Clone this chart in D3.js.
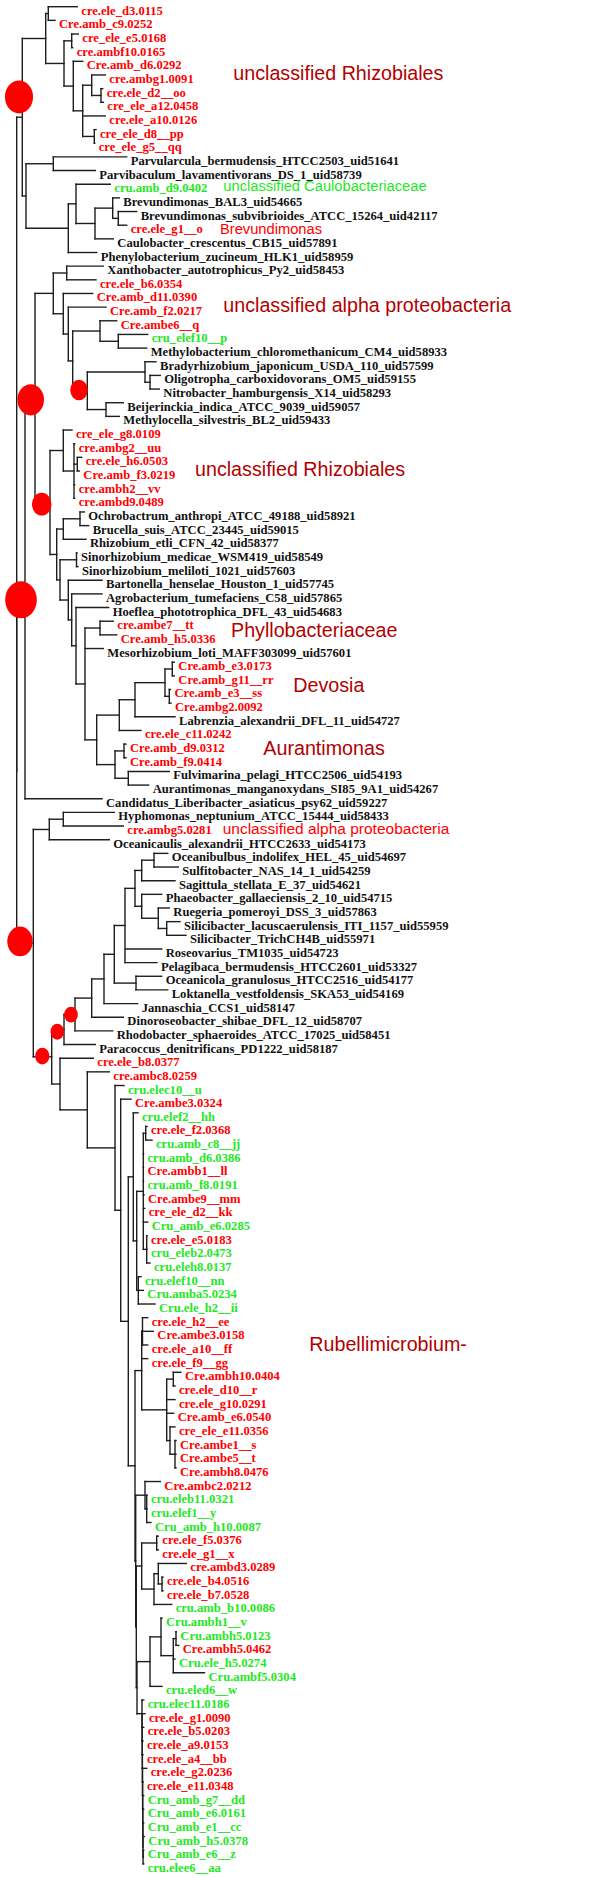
<!DOCTYPE html>
<html><head><meta charset="utf-8">
<script src="https://cdn.jsdelivr.net/npm/d3@7"></script>
<style>body{margin:0;background:#fff}svg{display:block}</style>
</head><body>
<svg id="chart" width="600" height="1878"></svg>
<script>
// ---------- DATA ----------
// Sub-clades as Newick strings (branch lengths), leaves in original order.
const rhizobialesTopNewick = `(
   (cre.ele_d3.0115:29,Cre.amb_c9.0252:6.7):2.6,
   ((cre_ele_e5.0168:6.6,cre.ambf10.0165:1.0):7.7,
    (Cre.amb_d6.0292:9.4,
      ((cre.ambg1.0091:13.6,(cre.ele_d2__oo:1.7,cre_ele_a12.0458:2.3):9.3):9,
       cre.ele_a10.0126:22.6,
       (cre_ele_d8__pp:1.7,cre_ele_g5__qq:0.4):11.6):9.4):9.3):18.3
  )`;

const caulobacterNewick = `(
  (Parvularcula_bermudensis_HTCC2503_uid51641:73.4,Parvibaculum_lavamentivorans_DS_1_uid58739:42):27.3,
  ((cru.amb_d9.0402:34.3,
    ((Brevundimonas_BAL3_uid54665:6.6,(Brevundimonas_subvibrioides_ATCC_15264_uid42117:18.4,cre.ele_g1__o:8.4):5.6):17.7,
     Caulobacter_crescentus_CB15_uid57891:18.3):19):7.7,
   Phenylobacterium_zucineum_HLK1_uid58959:28.4):42.3
 )`;

const alphaNewick = `(
  (Xanthobacter_autotrophicus_Py2_uid58453:36.6,cre.ele_b6.0354:29.3):13.4,
  (Cre.amb_d11.0390:29.4,
   (Cre.amb_f2.0217:37.7,
    ((Cre.ambe6__q:16.7,(cru_elef10__p:29.4,Methylobacterium_chloromethanicum_CM4_uid58933:28.4):18.3):27.3,
     ((Bradyrhizobium_japonicum_USDA_110_uid57599:11,(Oligotropha_carboxidovorans_OM5_uid59155:10.3,Nitrobacter_hamburgensis_X14_uid58293:9.3):5):57.7,
      (Beijerinckia_indica_ATCC_9039_uid59057:17.3,Methylocella_silvestris_BL2_uid59433:13.3):18.7):14.6
    ):4.4):5):10
 )`;

const rhizobialesLowNewick = `(
  (cre_ele_g8.0109:8.7,
   (cre.ambg2__uu:0.7,(cre.ele_h6.0503:4.4,Cre.amb_f3.0219:2):3.3,cre.ambh2__vv:0.7,cre.ambd9.0489:0.7):10.7):13.3,
  (((Ochrobactrum_anthropi_ATCC_49188_uid58921:4.3,Brucella_suis_ATCC_23445_uid59015:8.7):16.7,Rhizobium_etli_CFN_42_uid58377:22.7):6.6,
   ((Sinorhizobium_medicae_WSM419_uid58549:0.5,Sinorhizobium_meliloti_1021_uid57603:1.5):16.5,
    (Bartonella_henselae_Houston_1_uid57745:33.7,
     (Agrobacterium_tumefaciens_C58_uid57865:30.3,
      (Hoeflea_phototrophica_DFL_43_uid54683:32.7,
       ((cre.ambe7__tt:13.3,Cre.amb_h5.0336:16.7):15,
        Mesorhizobium_loti_MAFF303099_uid57601:18.3,
        (((((Cre.amb_e3.0173:2,Cre.amb_g11__rr:2):7.3,(Cre.amb_e3__ss:1.2,Cre.ambg2.0092:1.7):4.3):30,
            Labrenzia_alexandrii_DFL_11_uid54727:40):15.7,
           cre.ele_c11.0242:21.7):22.6,
         ((Cre.amb_d9.0312:2,Cre.amb_f9.0414:2):9,
          (Fulvimarina_pelagi_HTCC2506_uid54193:41,Aurantimonas_manganoxydans_SI85_9A1_uid54267:20.4):13.3):18.3
        ):11.7
       ):9
      ):4.3
     ):3.4
    ):8.3
   ):3.3
  ):6.7
 )`;

const hyphomonasNewick = `((Hyphomonas_neptunium_ATCC_15444_uid58433:51,cre.ambg5.0281:60):14,Oceanicaulis_alexandrii_HTCC2633_uid54173:60)`;

const rhodobacterNewick = `(((((((((Oceanibulbus_indolifex_HEL_45_uid54697:13.7,Sulfitobacter_NAS_14_1_uid54259:24.3):12.3,Sagittula_stellata_E_37_uid54621:33.3):6.7,
   (Phaeobacter_gallaeciensis_2_10_uid54715:20,(Ruegeria_pomeroyi_DSS_3_uid57863:11,(Silicibacter_lacuscaerulensis_ITI_1157_uid55959:13.3,Silicibacter_TrichCH4B_uid55971:19.3):8.4):16.6):6.7):10,
  Roseovarius_TM1035_uid54723:36.7,Pelagibaca_bermudensis_HTCC2601_uid53327:32):10.7,
  (Oceanicola_granulosus_HTCC2516_uid54177:25.7,Loktanella_vestfoldensis_SKA53_uid54169:31.7):21.7):10.3,
  Jannaschia_CCS1_uid58147:33.7):12.3,
  Dinoroseobacter_shibae_DFL_12_uid58707:31.6):16.7,
  Rhodobacter_sphaeroides_ATCC_17025_uid58451:37.7):11,
  Paracoccus_denitrificans_PD1222_uid58187:31.3)`;

const rubelliUpperNewick = `(cru.elef2__hh:4.7,
  (((cre.ele_f2.0368:1.3,cru.amb_c8__jj:6.3):2.4,cru.amb_d6.0386:0.2,Cre.ambb1__ll:0.2,cru.amb_f8.0191:0.2,Cre.ambe9__mm:0.7,cre_ele_d2__kk:1.4,Cru_amb_e6.0285:4.4,
    (cre.ele_e5.0183:0.3,cru_eleb2.0473:0.3,cru.eleh8.0137:3.3):3.4):6.6,
   (cru.elef10__nn:2.7,Cru.amba5.0234:5,Cru.ele_h2__ii:16.7):1.6):3.4)`;

const rubelliLowerNewick = `(
  ((cre.ele_h2__ee:5.2,Cre.ambe3.0158:10.8,cre.ele_a10__ff:5.2):0.8,cre.ele_f9__gg:6,
   ((Cre.ambh10.0404:7.7,cre.ele_d10__r:1.7):6.6,cre.ele_g10.0291:8.3,Cre.amb_e6.0540:7,
    (cre_ele_e11.0356:5,(Cre.ambe1__s:1,Cre.ambe5__t:1,Cre.ambh8.0476:1):5):3.3):25):6.7,
  ((Cre.ambc2.0212:15.3,(cru.eleb11.0321:0.3,cru.elef1__y:0.3,Cru_amb_h10.0087:4.3):1.7):9.3,
   (((cre.ele_f5.0376:1.6,cre.ele_g1__x:1.6):15,
     ((cre.ambd3.0289:28,(cre.ele_b4.0516:1,cre.ele_b7.0528:1):3.7):4.3,cru.amb_b10.0086:17.7):12.3):5.4,
    (((Cru.ambh1__v:1,((Cru.ambh5.0123:0.3,Cre.ambh5.0462:2.7):2.7,Cru.ele_h5.0274:1.7,Cru.ambf5.0304:31.2):12.3):11,cru.eled6__w:12):13,
     (cru.elec11.0186:1.7,(cre.ele_g1.0090:2.9,(cre.ele_b5.0203:1.5,(cre.ele_a9.0153:0.7,(cre.ele_a4__bb:0.6,(cre.ele_g2.0236:4.2,
      (cre.ele_e11.0348:0.4,(Cru_amb_g7__dd:1.0,(Cru_amb_e6.0161:0.9,(Cru_amb_e1__cc:0.8,(Cru_amb_h5.0378:1.3,
      (Cru_amb_e6__z:0.6,cru.elee6__aa:0.6):0.1):0.1):0.1):0.1):0.1):0.1):0.1):0.1):0.1):0.1):0.1):5
    ):0.7
   ):0.6
  ):0.7
 )`;

const treeNewick = `(
 (${rhizobialesTopNewick}:23.4,${caulobacterNewick}:3.7):5.6,
 (((${alphaNewick}:18.3,${rhizobialesLowNewick}:15):10,Candidatus_Liberibacter_asiaticus_psy62_uid59227:77):8.3,
 (${hyphomonasNewick}:16,
  (${rhodobacterNewick}:12.3,
   (cre.ele_b8.0377:33.3,
    (cre.ambc8.0259:22,
     (cru.elec10__u:9,
      (Cre.ambe3.0324:10.3,
       (${rubelliUpperNewick}:5,${rubelliLowerNewick}:6.7):7.6
      ):5.7
     ):27.7
    ):27.3
   ):8.3
  ):18.4
 ):16.6
);`;

// Clade annotations
const annotationText  = ["unclassified Rhizobiales","unclassified Caulobacteriaceae","Brevundimonas","unclassified alpha proteobacteria","unclassified Rhizobiales","Phyllobacteriaceae","Devosia","Aurantimonas","unclassified alpha proteobacteria","Rubellimicrobium-"];
const annotationCol   = [216.6, 206.6, 203.3, 206.6, 178.3, 214.3, 276.6, 246.6, 206.0, 292.6];
const annotationRow   = [5.40, 13.50, 16.63, 22.35, 34.40, 46.12, 50.18, 54.80, 60.56, 98.41];
const annotationGroup = ["clade","cru","cre","clade","clade","clade","clade","clade","cre","clade"];
const annotationLevel = [3, 1, 1, 3, 3, 3, 3, 3, 2, 3];

// Node support markers: position on the branch (column, row) and support value
const supportCol   = [2.3, 14.0, 62.3, 25.0, 4.3, 3.3, 54.3, 40.6, 25.6];
const supportRow   = [6.61, 28.79, 28.06, 36.43, 43.43, 68.45, 73.81, 75.06, 76.85];
const supportValue = [77, 69, 30, 37, 98, 63, 18, 18, 20];

// ---------- PARSE ----------
function parseNewick(str){
  const s = str.replace(/\s+/g,"");
  let i = 0;
  function node(){
    const n = {};
    if (s[i] === "("){
      i++; n.children = [];
      while (true){
        n.children.push(node());
        if (s[i] === ","){ i++; continue; }
        break;
      }
      i++; // ')'
    }
    let name = "";
    while (i < s.length && !",():;".includes(s[i])) name += s[i++];
    n.name = name;
    n.length = 0;
    if (s[i] === ":"){
      i++; let num = "";
      while (i < s.length && !",();".includes(s[i])) num += s[i++];
      n.length = +num;
    }
    return n;
  }
  return node();
}

const root = d3.hierarchy(parseNewick(treeNewick), d => d.children);
root.each(d => { d.dist = d.parent ? d.parent.dist + d.data.length : 0; });
const leaves = root.leaves();
leaves.forEach((l, i) => l.row = i);
root.eachAfter(d => { if (d.children) d.row = (d.children[0].row + d.children[d.children.length-1].row) / 2; });

// ---------- SCALES ----------
const x = d3.scaleLinear().domain([0, 100]).range([16.7, 116.7]);
const y = d3.scaleLinear().domain([0, leaves.length - 1]).range([6.7, 1863.9]);
const rScale = d3.scaleSqrt().domain([0, 100]).range([0, 16]);

const groupColor = g => g === "cre" ? "#ff0000" : g === "cru" ? "#1fe81f" : g === "clade" ? "#b20000" : "#111";
const leafGroup = name => /^cre/i.test(name) ? "cre" : /^cru/i.test(name) ? "cru" : "ref";

const svg = d3.select("#chart");

// ---------- BRANCHES ----------
const g = svg.append("g").attr("fill","none").attr("stroke","#1e1e1e").attr("stroke-width",1.4).attr("stroke-linecap","square");
root.descendants().filter(d => d.children).forEach(d => {
  g.append("line")
    .attr("x1", x(d.dist)).attr("x2", x(d.dist))
    .attr("y1", y(d.children[0].row)).attr("y2", y(d.children[d.children.length-1].row));
});
root.descendants().filter(d => d.parent).forEach(d => {
  g.append("line")
    .attr("x1", x(d.parent.dist)).attr("x2", x(d.dist))
    .attr("y1", y(d.row)).attr("y2", y(d.row));
});

// ---------- SUPPORT MARKERS ----------
svg.append("g").selectAll("ellipse").data(supportValue).join("ellipse")
  .attr("cx", (v, i) => x(supportCol[i]))
  .attr("cy", (v, i) => y(supportRow[i]))
  .attr("rx", v => rScale(v))
  .attr("ry", v => rScale(v) * 1.17)
  .attr("fill", "#ff0000");

// ---------- LEAF LABELS ----------
svg.append("g").selectAll("text").data(leaves).join("text")
  .attr("x", d => x(d.dist) + 4)
  .attr("y", d => y(d.row) + 8)
  .attr("font-family", "'Liberation Serif','Times New Roman',serif")
  .attr("font-weight", "bold")
  .attr("font-size", 12.6)
  .attr("fill", d => groupColor(leafGroup(d.data.name)))
  .text(d => d.data.name);

// ---------- CLADE ANNOTATIONS ----------
const levelSize = {1: 14.7, 2: 15.5, 3: 19.7};
svg.append("g").selectAll("text").data(annotationText).join("text")
  .attr("x", (t, i) => x(annotationCol[i]))
  .attr("y", (t, i) => y(annotationRow[i]))
  .attr("font-family", "'Liberation Sans',Arial,sans-serif")
  .attr("font-size", (t, i) => levelSize[annotationLevel[i]])
  .attr("fill", (t, i) => groupColor(annotationGroup[i]))
  .text(t => t);
</script>
</body></html>
